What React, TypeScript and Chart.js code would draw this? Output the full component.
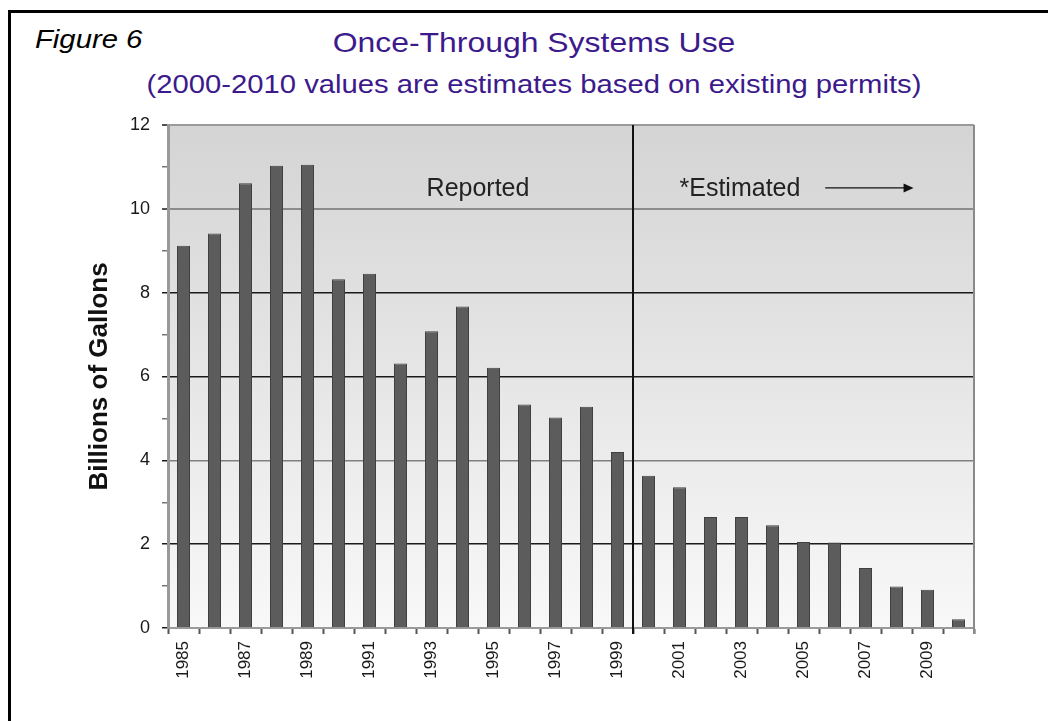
import React, { useEffect, useRef } from "react";
import { Chart, registerables } from "chart.js";

Chart.register(...registerables);

const years: string[] = [
  "1985", "1986", "1987", "1988", "1989", "1990", "1991", "1992", "1993",
  "1994", "1995", "1996", "1997", "1998", "1999", "2000", "2001", "2002",
  "2003", "2004", "2005", "2006", "2007", "2008", "2009", "2010",
];
const usage: number[] = [
  9.12, 9.41, 10.61, 11.03, 11.05, 8.32, 8.45, 6.31, 7.08, 7.67, 6.21, 5.33,
  5.02, 5.28, 4.2, 3.63, 3.36, 2.65, 2.65, 2.45, 2.05, 2.04, 1.43, 0.99, 0.91,
  0.21,
];
const yTicks: number[] = [0, 2, 4, 6, 8, 10, 12];
const titleText = "Once-Through Systems Use";
const subtitleText = "(2000-2010 values are estimates based on existing permits)";
const figureText = "Figure 6";
const yAxisTitle = "Billions of Gallons";
const reportedText = "Reported";
const estimatedText = "*Estimated";
const firstEstimateYear = "2000";

const FONT = "'Liberation Sans', Arial, Helvetica, sans-serif";

export default function App() {
  const ref = useRef<HTMLCanvasElement | null>(null);

  useEffect(() => {
    const canvas = ref.current;
    if (!canvas) return;

    const splitIndex = years.indexOf(firstEstimateYear);

    const overlay = {
      id: "overlay",
      beforeDraw(chart: any) {
        const { ctx, chartArea } = chart;
        const g = ctx.createLinearGradient(0, chartArea.top, 0, chartArea.bottom);
        g.addColorStop(0, "#d4d4d4");
        g.addColorStop(1, "#f8f8f8");
        ctx.save();
        ctx.fillStyle = g;
        ctx.fillRect(chartArea.left, chartArea.top, chartArea.right - chartArea.left, chartArea.bottom - chartArea.top);
        ctx.restore();
      },
      afterDatasetsDraw(chart: any) {
        const { ctx, chartArea, scales } = chart;
        const xs = scales.x;
        const ys = scales.y;
        ctx.save();
        ctx.strokeStyle = "#8a8a8a";
        ctx.lineWidth = 2;
        ctx.beginPath();
        ctx.moveTo(chartArea.right, chartArea.top);
        ctx.lineTo(chartArea.right, chartArea.bottom + 6);
        ctx.stroke();
        const sx = (xs.getPixelForValue(splitIndex - 1) + xs.getPixelForValue(splitIndex)) / 2;
        ctx.strokeStyle = "#111";
        ctx.lineWidth = 2;
        ctx.beginPath();
        ctx.moveTo(sx, chartArea.top);
        ctx.lineTo(sx, chartArea.bottom + 6);
        ctx.stroke();
        const ty = ys.getPixelForValue(10.47);
        ctx.fillStyle = "#222";
        ctx.font = `25px ${FONT}`;
        ctx.textBaseline = "middle";
        ctx.textAlign = "center";
        ctx.fillText(reportedText, xs.getPixelForValue(9.5), ty);
        ctx.textAlign = "left";
        ctx.fillText(estimatedText, xs.getPixelForValue(16.0), ty);
        const ay = ys.getPixelForValue(10.5);
        const ax0 = xs.getPixelForValue(20.7);
        const ax1 = xs.getPixelForValue(23.55);
        ctx.strokeStyle = "#111";
        ctx.lineWidth = 1.2;
        ctx.beginPath();
        ctx.moveTo(ax0, ay);
        ctx.lineTo(ax1 - 8, ay);
        ctx.stroke();
        ctx.fillStyle = "#111";
        ctx.beginPath();
        ctx.moveTo(ax1, ay);
        ctx.lineTo(ax1 - 10, ay - 4.5);
        ctx.lineTo(ax1 - 10, ay + 4.5);
        ctx.closePath();
        ctx.fill();
        ctx.restore();
      },
    };

    const gridColor = (v: number) => {
      if (v === 0) return "rgba(0,0,0,0)";
      if (v === 12) return "#9a9a9a";
      if (v === 10) return "#8c8c8c";
      if (v === 4) return "#808080";
      if (v % 2 === 0) return "#1a1a1a";
      return "rgba(0,0,0,0)";
    };

    const chart = new Chart(canvas, {
      type: "bar",
      data: {
        labels: years,
        datasets: [
          {
            data: usage,
            backgroundColor: "#5c5c5c",
            borderColor: "#404040",
            borderWidth: 1,
            categoryPercentage: 1,
            barPercentage: 0.42,
          },
        ],
      },
      options: {
        animation: false,
        responsive: false,
        devicePixelRatio: 1,
        layout: { padding: { left: 0, top: 125, right: 74, bottom: 0 } },
        plugins: {
          legend: { display: false },
          tooltip: { enabled: false },
          title: { display: false },
        },
        scales: {
          x: {
            offset: true,
            grid: {
              display: true,
              drawOnChartArea: false,
              color: "rgba(0,0,0,0)",
              tickColor: "#555",
              tickLength: 6,
              tickWidth: 2,
            },
            border: { display: true, color: "#9a9a9a", width: 2 },
            ticks: {
              autoSkip: false,
              minRotation: 90,
              maxRotation: 90,
              padding: 7,
              color: "#1a1a1a",
              font: { family: FONT, size: 17 },
              callback: (_v: any, i: number) => (i % 2 === 0 ? years[i] : ""),
            },
            afterFit: (scale: any) => {
              scale.height = 93;
            },
          },
          y: {
            min: 0,
            max: 12,
            grid: {
              color: (c: any) => gridColor(c.tick.value),
              lineWidth: (c: any) => (c.tick.value === 10 || c.tick.value === 12 ? 2 : 1.5),
              tickColor: (c: any) => (yTicks.includes(c.tick.value) ? "#1a1a1a" : "#777"),
              tickLength: 6,
              tickWidth: 1.5,
            },
            border: { display: true, color: "#999", width: 3 },
            ticks: {
              stepSize: 1,
              padding: 12,
              color: "#1a1a1a",
              font: { family: FONT, size: 18 },
              callback: (v: any) => (yTicks.includes(Number(v)) ? String(v) : ""),
            },
            title: {
              display: true,
              text: yAxisTitle,
              color: "#111",
              font: { family: FONT, size: 26, weight: "bold" },
              padding: { top: 84, bottom: 0 },
            },
            afterFit: (scale: any) => {
              scale.width = 168;
            },
          },
        },
      },
      plugins: [overlay],
    } as any);

    return () => chart.destroy();
  }, []);

  return (
    <div style={{ position: "fixed", left: 0, top: 0, width: 1048, height: 721, overflow: "hidden", background: "#fff" }}>
      <div
        style={{
          position: "absolute",
          left: 8,
          top: 10,
          width: 1060,
          height: 740,
          borderTop: "3px solid #000",
          borderLeft: "3px solid #000",
        }}
      />
      <div
        style={{
          position: "absolute",
          left: 35,
          top: 27,
          fontFamily: FONT,
          fontStyle: "italic",
          fontSize: 25,
          lineHeight: "25px",
          whiteSpace: "nowrap",
          color: "#000",
          transformOrigin: "left center",
          transform: "scaleX(1.17)",
        }}
      >
        {figureText}
      </div>
      <div
        style={{
          position: "absolute",
          left: 534,
          top: 29,
          fontFamily: FONT,
          fontSize: 28,
          lineHeight: "28px",
          whiteSpace: "nowrap",
          color: "#3c1a8c",
          transform: "translateX(-50%) scaleX(1.14)",
        }}
      >
        {titleText}
      </div>
      <div
        style={{
          position: "absolute",
          left: 534,
          top: 72,
          fontFamily: FONT,
          fontSize: 25.5,
          lineHeight: "25.5px",
          whiteSpace: "nowrap",
          color: "#3c1a8c",
          transform: "translateX(-50%) scaleX(1.146)",
        }}
      >
        {subtitleText}
      </div>
      <canvas
        ref={ref}
        width={1048}
        height={721}
        style={{ position: "absolute", left: 0, top: 0, width: 1048, height: 721 }}
      />
    </div>
  );
}
